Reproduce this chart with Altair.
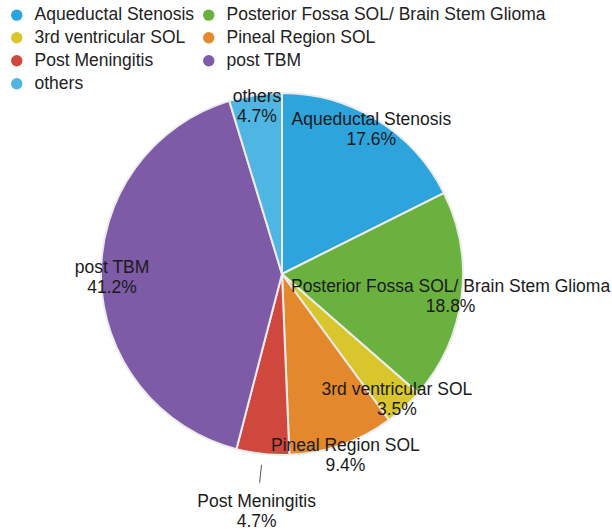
import altair as alt
import pandas as pd

categories = [
    "Aqueductal Stenosis",
    "Posterior Fossa SOL/ Brain Stem Glioma",
    "3rd ventricular SOL",
    "Pineal Region SOL",
    "Post Meningitis",
    "post TBM",
    "others",
]
percents = [17.6, 18.8, 3.5, 9.4, 4.7, 41.2, 4.7]
colors = ["#2ea4dd", "#6bb13f", "#d8c62c", "#e4882d", "#d0483d", "#7e5ba7", "#4fb5e2"]

df = pd.DataFrame({"category": categories, "percent": percents, "idx": list(range(len(categories)))})

# layout settings (not data)
CX, CY, R = 282, 274, 181
LABEL_R_DEFAULT = 170
LABEL_R = {"Pineal Region SOL": 192, "Post Meningitis": 238}
FONT = "Liberation Sans"
FS = 17.5

r_expr = str(LABEL_R_DEFAULT)
for k, v in LABEL_R.items():
    r_expr = f"datum.category == '{k}' ? {v} : ({r_expr})"

base = (
    alt.Chart(df)
    .transform_joinaggregate(total="sum(percent)")
    .transform_window(cum="sum(percent)", sort=[alt.SortField("idx")], frame=[None, 0])
    .transform_calculate(mid="(datum.cum - datum.percent/2)/datum.total*2*PI")
)

arc = (
    alt.Chart(df)
    .mark_arc(outerRadius=R, stroke="#ececec", strokeWidth=2)
    .encode(
        theta=alt.Theta("percent:Q", stack=True),
        order=alt.Order("idx:Q"),
        color=alt.Color(
            "category:N",
            scale=alt.Scale(domain=categories, range=colors),
            legend=alt.Legend(
                orient="none",
                legendX=8,
                legendY=6,
                columns=2,
                direction="horizontal",
                title=None,
                symbolType="circle",
                symbolSize=130,
                symbolStrokeWidth=0,
                symbolOpacity=1,
                labelFontSize=FS,
                labelFont=FONT,
                labelColor="#222222",
                labelOffset=9,
                columnPadding=5,
                rowPadding=4,
                padding=0,
                labelLimit=500,
            ),
        ),
        x=alt.value(CX),
        y=alt.value(CY),
    )
)

labels = (
    base.transform_calculate(
        r=r_expr,
    )
    .transform_calculate(
        lx=f"{CX} + datum.r*sin(datum.mid)",
        ly=f"{CY} - datum.r*cos(datum.mid)",
        label="datum.category + '\\n' + format(datum.percent, '.1f') + '%'",
    )
    .mark_text(
        font=FONT,
        fontSize=FS,
        color="#1a1a1a",
        lineBreak="\n",
        lineHeight=20,
        align="center",
        baseline="middle",
        dy=-9,
    )
    .encode(
        x=alt.X("lx:Q", scale=None, axis=None),
        y=alt.Y("ly:Q", scale=None, axis=None),
        text="label:N",
    )
)

leader = (
    base.transform_filter("datum.category == 'Post Meningitis'")
    .transform_calculate(
        x1=f"{CX} + 192*sin(datum.mid)",
        y1=f"{CY} - 192*cos(datum.mid)",
        x2=f"{CX} + 210*sin(datum.mid)",
        y2=f"{CY} - 210*cos(datum.mid)",
    )
    .mark_rule(color="#555555", strokeWidth=1)
    .encode(
        x=alt.X("x1:Q", scale=None, axis=None),
        y=alt.Y("y1:Q", scale=None, axis=None),
        x2="x2:Q",
        y2="y2:Q",
    )
)

chart = (
    alt.layer(arc, labels, leader)
    .properties(width=612, height=529, autosize=alt.AutoSizeParams(type="none"), padding=0)
    .configure_view(stroke=None)
)

chart.save("out.html", embed_options={"renderer": "svg", "actions": False})
